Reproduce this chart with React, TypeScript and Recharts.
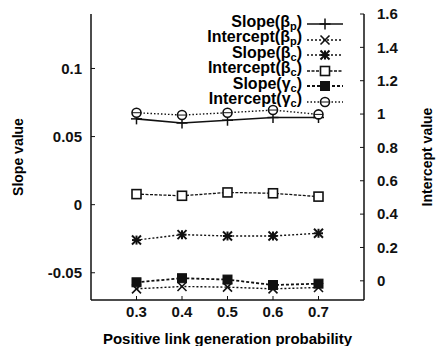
import { Line, LineChart, XAxis, YAxis } from 'recharts';

const probs = [0.3, 0.4, 0.5, 0.6, 0.7];
const slopeBetaP = [0.063, 0.06, 0.062, 0.064, 0.064];
const interceptBetaP = [-0.048, -0.034, -0.038, -0.048, -0.04];
const slopeBetaC = [-0.026, -0.022, -0.023, -0.023, -0.021];
const interceptBetaC = [0.52, 0.51, 0.53, 0.525, 0.505];
const slopeGammaC = [-0.057, -0.054, -0.055, -0.059, -0.058];
const interceptGammaC = [1.008, 0.994, 1.008, 1.024, 0.998];

const slopeTicks = [-0.05, 0, 0.05, 0.1];
const interceptTicks = [0, 0.2, 0.4, 0.6, 0.8, 1, 1.2, 1.4, 1.6];

const data = probs.map((p, i) => ({
  p,
  sbp: slopeBetaP[i],
  ibp: interceptBetaP[i],
  sbc: slopeBetaC[i],
  ibc: interceptBetaC[i],
  sgc: slopeGammaC[i],
  igc: interceptGammaC[i],
}));

const INK = '#111';
const FONT = '"Liberation Sans", Arial, sans-serif';

type Shape = 'plus' | 'cross' | 'star' | 'square' | 'fsquare' | 'circle';

function Marker({ cx, cy, shape }: { cx: number; cy: number; shape: Shape }) {
  const s = 4.5;
  if (shape === 'plus')
    return (
      <g stroke={INK} strokeWidth={1.5}>
        <line x1={cx - s - 1} y1={cy} x2={cx + s + 1} y2={cy} />
        <line x1={cx} y1={cy - s - 1} x2={cx} y2={cy + s + 1} />
      </g>
    );
  if (shape === 'cross')
    return (
      <g stroke={INK} strokeWidth={1.6}>
        <line x1={cx - s} y1={cy - s} x2={cx + s} y2={cy + s} />
        <line x1={cx - s} y1={cy + s} x2={cx + s} y2={cy - s} />
      </g>
    );
  if (shape === 'star')
    return (
      <g stroke={INK} strokeWidth={2}>
        <line x1={cx - s} y1={cy - s} x2={cx + s} y2={cy + s} />
        <line x1={cx - s} y1={cy + s} x2={cx + s} y2={cy - s} />
        <line x1={cx - s} y1={cy} x2={cx + s} y2={cy} />
        <line x1={cx} y1={cy - s} x2={cx} y2={cy + s} />
      </g>
    );
  if (shape === 'square')
    return <rect x={cx - s} y={cy - s} width={2 * s} height={2 * s} fill="#fff" stroke={INK} strokeWidth={1.6} />;
  if (shape === 'fsquare')
    return <rect x={cx - s} y={cy - s} width={2 * s} height={2 * s} fill={INK} stroke={INK} />;
  return (
    <g>
      <circle cx={cx} cy={cy} r={s} fill="#fff" stroke={INK} strokeWidth={1.6} />
      <line x1={cx - s} y1={cy} x2={cx + s} y2={cy} stroke={INK} strokeWidth={1} />
    </g>
  );
}

const series = [
  { key: 'sbp', name: 'Slope(', sym: 'β', sub: 'p', axis: 'left', shape: 'plus' as Shape, dash: undefined, width: 1.6 },
  { key: 'ibp', name: 'Intercept(', sym: 'β', sub: 'p', axis: 'right', shape: 'cross' as Shape, dash: '2 2', width: 1.4 },
  { key: 'sbc', name: 'Slope(', sym: 'β', sub: 'c', axis: 'left', shape: 'star' as Shape, dash: '2 2', width: 1.4 },
  { key: 'ibc', name: 'Intercept(', sym: 'β', sub: 'c', axis: 'right', shape: 'square' as Shape, dash: '3 1.5', width: 1.3 },
  { key: 'sgc', name: 'Slope(', sym: 'γ', sub: 'c', axis: 'left', shape: 'fsquare' as Shape, dash: '3 2', width: 1.8 },
  { key: 'igc', name: 'Intercept(', sym: 'γ', sub: 'c', axis: 'right', shape: 'circle' as Shape, dash: '1.5 2', width: 1.4 },
];

function AxisTitle({ viewBox, text, dx }: any) {
  const x = viewBox.x + dx;
  const y = viewBox.y + viewBox.height / 2;
  return (
    <text x={x} y={y} transform={`rotate(-90 ${x} ${y})`} textAnchor="middle" dominantBaseline="central"
      fontFamily={FONT} fontWeight="bold" fontSize={14} fill="#000">
      {text}
    </text>
  );
}

const tickStyle = { fontFamily: FONT, fontWeight: 'bold' as const, fontSize: 15, fill: INK };

export default function App() {
  return (
    <div style={{ position: 'absolute', left: 0, top: 0, width: 436, height: 346, background: '#fff' }}>
      <LineChart width={436} height={346} data={data} margin={{ top: 14, right: 0, bottom: 0, left: 0 }}>
        <XAxis xAxisId="top" orientation="top" dataKey="p" type="number" domain={[0.2, 0.8]} height={0}
          tick={false} tickLine={false} axisLine={{ stroke: INK, strokeWidth: 1.5 }} />
        <XAxis dataKey="p" type="number" domain={[0.2, 0.8]} ticks={probs} height={46}
          tickFormatter={(v) => v.toFixed(1)} tick={tickStyle} tickSize={-4} tickMargin={10}
          axisLine={{ stroke: INK, strokeWidth: 1.5 }} tickLine={{ stroke: INK }}
          label={{ value: 'Positive link generation probability', position: 'insideBottom', offset: 2,
            style: { fontFamily: FONT, fontWeight: 'bold', fontSize: 15, fill: '#000' } }} />
        <YAxis yAxisId="left" domain={[-0.07, 0.14]} ticks={slopeTicks} width={91}
          tick={tickStyle} tickSize={-4} tickMargin={13}
          axisLine={{ stroke: INK, strokeWidth: 1.5 }} tickLine={{ stroke: INK }}
          label={{ content: (p: any) => <AxisTitle viewBox={p.viewBox} text="Slope value" dx={18} /> }} />
        <YAxis yAxisId="right" orientation="right" domain={[-0.115, 1.6]} ticks={interceptTicks} width={72}
          tick={tickStyle} tickSize={-4} tickMargin={17}
          axisLine={{ stroke: INK, strokeWidth: 1.5 }} tickLine={{ stroke: INK }}
          label={{ content: (p: any) => <AxisTitle viewBox={p.viewBox} text="Intercept value" dx={63} /> }} />
        {series.map((s) => (
          <Line key={s.key} yAxisId={s.axis} dataKey={s.key} type="linear" stroke={INK}
            strokeWidth={s.width} strokeDasharray={s.dash} isAnimationActive={false}
            dot={(d: any) => <Marker key={`${s.key}-${d.index}`} cx={d.cx} cy={d.cy} shape={s.shape} />}
            activeDot={false} />
        ))}
      </LineChart>
      <div style={{ position: 'absolute', left: 145, top: 16, fontFamily: FONT, fontWeight: 'bold', fontSize: 16, color: '#000' }}>
        {series.map((s) => (
          <div key={s.key} style={{ display: 'flex', alignItems: 'center', height: 15.5 }}>
            <div style={{ width: 157, textAlign: 'right', lineHeight: '15px', whiteSpace: 'nowrap' }}>
              {s.name}{s.sym}<sub style={{ fontSize: 11, verticalAlign: -3 }}>{s.sub}</sub>)
            </div>
            <svg width={40} height={15} style={{ marginLeft: 3 }}>
              <line x1={2} y1={8} x2={38} y2={8} stroke={INK} strokeWidth={s.width} strokeDasharray={s.dash} />
              <Marker cx={20} cy={8} shape={s.shape} />
            </svg>
          </div>
        ))}
      </div>
    </div>
  );
}
